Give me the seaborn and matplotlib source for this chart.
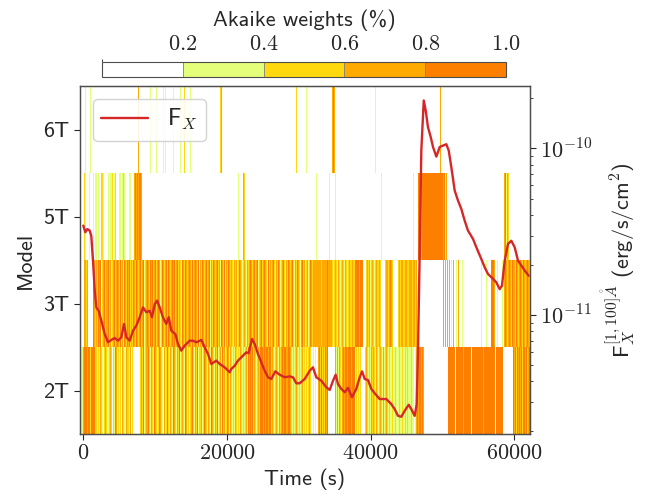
import numpy as np
import pandas as pd
import matplotlib
matplotlib.use("Agg")
import matplotlib.pyplot as plt
import seaborn as sns
from matplotlib.colors import ListedColormap, BoundaryNorm
from matplotlib.ticker import FixedLocator, FuncFormatter, LogLocator, NullFormatter

sns.set_style("ticks")
plt.rcParams['font.family'] = ['cmss10', 'DejaVu Sans']
plt.rcParams['mathtext.fontset'] = 'cm'
plt.rcParams['axes.unicode_minus'] = False
plt.rcParams['axes.formatter.use_mathtext'] = True

# ---------------- data ----------------
models = ["2T", "3T", "5T", "6T"]
weight_bounds = [0.0, 0.2, 0.4, 0.6, 0.8, 1.0]
class_weight = [0.1, 0.3, 0.5, 0.7, 0.9]          # representative weight of each class
class_colors = ["#ffffff", "#e4ff7a", "#ffd90d", "#ffaa00", "#fc7f00"]
cbar_ticks = [0.2, 0.4, 0.6, 0.8, 1.0]

# time bins of the weight map (s)
bin_start = -460.0
bin_width = 139.2

# weight class per time bin (0..4), one string per model
row_2T = ("1113444344244442"
          "21213210232112320214" "31212032113221302"
          "0000000" "2324123342"
          "1321432124321031242132143"
          "2132412321431212342132412"
          "231243213214321324123142312431"
          "321213212132121231" "43434" "23212324" "4434344344"
          "2321232132" "3434433443" "21212321212312121232"
          "0010100" "3424232434" "0000000" "31313213"
          "434434443444" "121212" "0000" "232121323213212"
          "32131232" "1211211210121121121211121101" "34344343"
          + "0" * 24
          + "4" * 7 + "0" + "4" * 7 + "3" + "4" * 7 + "0" + "4" * 11 + "3" + "4" * 11 + "0" + "4" * 7
          + "0" * 10
          + "43424343424434234")
row_3T = ("00003323" "00000"
          "43232434023423342312" "34234324231432434232"
          "43243234234123432434" "23423431243234243234"
          "34234232143243234324" "23432413243234234132"
          "43234231432413243"
          "23213231243212321323" "43234234123423432142"
          "32342132431234213243" "23421324321342312312432"
          "3333333323333343333" "21232132123213212322322"
          "44443444" "000" "232312321232" "232" "0000" "23323432"
          "00000" "2323322332233323323"
          + "0" * 26
          + "3030303010300103000100" "00000000000000001000010000"
          "4443" "001000010" "34323432433243234324323432")
row_5T = ("0000"
          "21" "000" "1" "000" "1" "0" "11" "0" "1" "00" "221" "0000" "1" "0"
          "112" "0" "12" "000" "11" "0" "121" "0000" "11" "000" "34343443"
          + "0" * 96 + "1" + "0000" + "32" + "0" * 71
          + "1" + "0" * 12 + "1" + "0" * 5 + "1"
          + "0" * 45 + "1" + "0" * 31 + "1" + "0" * 4
          + "44434" + "4" * 20 + "3413"
          + "0" * 57 + "34132" + "0" * 21)
row_6T = ("0" * 5 + "1" + "0" * 4 + "1" + "0" * 47 + "3" + "0" * 11 + "1" + "0" * 5 + "1"
          + "0" * 6 + "1" + "0" + "1" + "0" * 7 + "1" + "0" * 6 + "1" + "0" * 3 + "2"
          + "0" * 5 + "1" + "0" * 29 + "23" + "0" * 74 + "2" + "0" * 9 + "1" + "0" * 25
          + "343" + "0" * 40 + "1" + "0" * 64 + "3" + "0" * 89)

# X-ray flux curve
time_s = [0, 280, 560, 890, 1110, 1350, 1590, 1810, 2140, 2510,
          2980, 3440, 3900, 4370, 4830, 5290, 5670, 5990, 6460, 6920,
          7380, 7850, 8310, 8770, 9240, 9560, 9940, 10260, 10640, 11090,
          11550, 11890, 12250, 12810, 13180, 13640, 14120, 14810, 15270, 15730,
          16430, 16900, 17360, 17820, 18510, 18990, 19680, 20380, 20600, 21080,
          21530, 22230, 22690, 23020, 23480, 23860, 24320, 24780, 25250, 25710,
          26170, 26730, 27340, 28040, 28730, 29190, 29650, 30120, 30820, 31520,
          31970, 32430, 33130, 33830, 34300, 34760, 35130, 35450, 35910, 36390,
          36850, 37400, 38000, 38480, 38800, 39170, 39630, 40090, 40560, 41260,
          41720, 42180, 42870, 43350, 43810, 44270, 44740, 45300, 45660, 46130,
          46410, 46590, 46830, 47050, 47390, 47660, 47980, 48360, 48680, 49140,
          49610, 50070, 50530, 50870, 51230, 51700, 52160, 52620, 53090, 53550,
          54250, 54710, 55400, 55880, 56340, 57030, 57490, 57960, 58280, 58660,
          59120, 59580, 60050, 60510, 60970, 61440, 62000]
flux_1e12 = [34.4, 31.4, 32.8, 32.1, 29.9, 21.2, 14.0, 11.1, 10.6, 9.25,
             7.69, 6.86, 7.08, 7.28, 7.01, 7.35, 8.83, 7.35, 7.01, 8.05,
             8.63, 9.69, 11.1, 10.4, 10.6, 9.69, 11.6, 12.2, 11.1, 9.69,
             8.83, 9.69, 8.05, 7.69, 6.70, 6.11, 6.55, 7.01, 7.01, 6.86,
             7.08, 6.40, 5.83, 5.08, 5.32, 5.08, 4.85, 4.53, 4.74, 4.96,
             5.32, 5.70, 5.97, 5.90, 7.18, 6.70, 5.83, 5.20, 4.63, 4.23,
             4.13, 4.59, 4.38, 4.23, 4.28, 4.23, 3.89, 3.89, 4.13, 4.63,
             4.85, 4.23, 4.03, 3.68, 3.55, 4.03, 4.38, 3.85, 3.60, 3.44,
             3.65, 3.21, 3.60, 4.23, 4.59, 4.13, 4.07, 3.60, 3.39, 3.13,
             3.13, 3.13, 2.92, 2.72, 2.48, 2.45, 2.66, 2.89, 2.72, 2.48,
             2.92, 6.11, 24.3, 97.0, 194.0, 169.0, 134.0, 117.0, 102.0, 89.3,
             102.0, 104.0, 106.0, 97.0, 77.1, 55.8, 48.6, 43.3, 36.8, 32.1,
             28.6, 25.5, 21.7, 19.3, 17.6, 16.5, 15.7, 14.3, 15.0, 21.2,
             26.7, 27.9, 25.5, 21.2, 19.8, 18.5, 17.2]

# ---------------- build ----------------
rows = [row_2T, row_3T, row_5T, row_6T]
ncol = max(len(r) for r in rows)
rows = [(r + "0" * ncol)[:ncol] for r in rows]
Z = np.array([[class_weight[int(c)] for c in r] for r in rows])
t_edges = bin_start + bin_width * np.arange(ncol + 1)

cmap = ListedColormap(class_colors)
norm = BoundaryNorm(weight_bounds, cmap.N)

df = pd.DataFrame({"time": time_s, "flux": np.array(flux_1e12) * 1e-12})

W, H = 660, 497
fig = plt.figure(figsize=(W / 100, H / 100), dpi=100)
ax = fig.add_axes([80 / W, 1 - 434 / H, 450 / W, 348 / H])
mesh = ax.pcolormesh(t_edges, np.arange(len(models) + 1), Z, cmap=cmap, norm=norm,
                     shading="flat", rasterized=True)
ax.set_xlim(t_edges[0], t_edges[-1])
ax.set_ylim(0, len(models))
ax.set_yticks(np.arange(len(models)) + 0.5)
ax.set_yticklabels(models)
ax.xaxis.set_major_locator(FixedLocator([0, 20000, 40000, 60000]))
ax.xaxis.set_major_formatter(FuncFormatter(lambda v, p: r"$%d$" % v))
ax.set_xlabel("Time (s)", fontsize=16, labelpad=4)
ax.set_ylabel("Model", fontsize=16, labelpad=6)
ax.tick_params(axis="both", labelsize=16, length=4, width=0.8, direction="out")

ax2 = ax.twinx()
sns.lineplot(data=df, x="time", y="flux", ax=ax2, color="#d62728", lw=1.7,
             estimator=None, label=r"F$_X$")
ax2.set_yscale("log")
ax2.set_ylim(1.93e-12, 2.37e-10)
ax2.set_xlim(t_edges[0], t_edges[-1])
ax2.yaxis.set_major_locator(LogLocator(base=10, numticks=10))
ax2.yaxis.set_major_formatter(FuncFormatter(lambda v, p: r"$10^{%d}$" % round(np.log10(v))))
ax2.yaxis.set_minor_locator(LogLocator(base=10, subs=np.arange(2, 10), numticks=20))
ax2.yaxis.set_minor_formatter(NullFormatter())
ax2.tick_params(axis="y", which="major", labelsize=16, length=4, width=0.8, direction="out")
ax2.tick_params(axis="y", which="minor", length=2.5, width=0.6, direction="out")
ax2.set_ylabel(r"F$_X^{[1,100]\mathring{A}}$ (erg/s/cm$^2$)", fontsize=16, labelpad=5)
ax2.set_xlabel("")
leg = ax2.legend(loc="upper left", fontsize=17, handlelength=2.0, borderaxespad=0.55,
                 borderpad=0.35, frameon=True, fancybox=True, framealpha=0.85,
                 edgecolor="0.8")

for a in (ax, ax2):
    for s in a.spines.values():
        s.set_edgecolor("0.3")
        s.set_linewidth(0.9)

# colorbar on top
cax = fig.add_axes([102 / W, 1 - 77 / H, 404 / W, 15 / H])
cb = fig.colorbar(mesh, cax=cax, orientation="horizontal", ticks=cbar_ticks, drawedges=True)
cax.xaxis.set_ticks_position("top")
cax.xaxis.set_label_position("top")
cb.set_ticklabels([r"$%.1f$" % v for v in cbar_ticks])
cax.tick_params(length=0, labelsize=16, pad=6)
cb.set_label("Akaike weights (%)", fontsize=16, labelpad=6)
cb.outline.set_edgecolor("0.3")
cb.outline.set_linewidth(0.8)
cb.dividers.set_color("0.5")
cb.dividers.set_linewidth(0.6)

fig.savefig("out.png", dpi=100)
